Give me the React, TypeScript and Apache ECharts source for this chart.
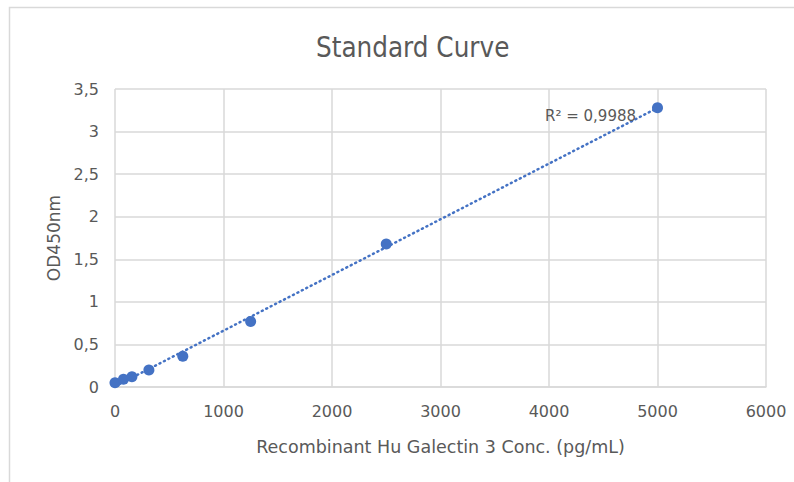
import React, { useEffect, useRef } from "react";
import * as echarts from "echarts";

const chartTitle = "Standard Curve";
const xAxisTitle = "Recombinant Hu Galectin 3 Conc. (pg/mL)";
const yAxisTitle = "OD450nm";
const rSquaredLabel = "R² = 0,9988";

const concentrations = [0, 78, 156, 312.5, 625, 1250, 2500, 5000];
const odValues = [0.05, 0.09, 0.12, 0.2, 0.36, 0.77, 1.68, 3.28];

const xMin = 0;
const xMax = 6000;
const xStep = 1000;
const yMin = 0;
const yMax = 3.5;
const yStep = 0.5;

const BLUE = "#4472C4";
const GRAY_TEXT = "#595959";
const GRID_GRAY = "#d9d9d9";
const LABEL_FONT = "'DejaVu Sans', 'Open Sans', sans-serif";

function linearFit(xs: number[], ys: number[]) {
  const n = xs.length;
  const mx = xs.reduce((a, b) => a + b, 0) / n;
  const my = ys.reduce((a, b) => a + b, 0) / n;
  let sxy = 0;
  let sxx = 0;
  for (let i = 0; i < n; i++) {
    sxy += (xs[i] - mx) * (ys[i] - my);
    sxx += (xs[i] - mx) * (xs[i] - mx);
  }
  const slope = sxy / sxx;
  return { slope, intercept: my - slope * mx };
}

const commaFmt = (v: number) => String(v).replace(".", ",");

export default function App() {
  const ref = useRef<HTMLDivElement>(null);

  useEffect(() => {
    if (!ref.current) return;
    const chart = echarts.init(ref.current, undefined, { renderer: "svg" });
    const fit = linearFit(concentrations, odValues);
    const x0 = Math.min(...concentrations);
    const x1 = Math.max(...concentrations);
    const trend = [
      [x0, fit.intercept + fit.slope * x0],
      [x1, fit.intercept + fit.slope * x1],
    ];
    const points = concentrations.map((c, i) => [c, odValues[i]]);

    chart.setOption({
      animation: false,
      backgroundColor: "#ffffff",
      title: {
        text: chartTitle,
        left: 311,
        top: 28,
        textStyle: {
          fontFamily: "'DejaVu Sans Condensed', 'DejaVu Sans', sans-serif",
          fontSize: 27.5,
          fontWeight: "normal",
          color: GRAY_TEXT,
        },
      },
      graphic: [
        {
          type: "polyline",
          shape: { points: [[9.5, 490], [9.5, 7.5], [800, 7.5]] },
          style: { stroke: GRID_GRAY, lineWidth: 1.5, fill: null },
          silent: true,
        },
        {
          type: "text",
          left: 545,
          top: 108,
          style: {
            text: rSquaredLabel,
            fontFamily: LABEL_FONT,
            fontSize: 15,
            fill: GRAY_TEXT,
          },
          z: 100,
        },
      ],
      grid: { left: 115, right: 28, top: 89, bottom: 95, containLabel: false },
      xAxis: {
        type: "value",
        min: xMin,
        max: xMax,
        interval: xStep,
        name: xAxisTitle,
        nameLocation: "middle",
        nameGap: 51,
        nameTextStyle: { fontFamily: LABEL_FONT, fontSize: 17.5, color: GRAY_TEXT },
        axisLine: { show: true, lineStyle: { color: GRID_GRAY, width: 1.5 } },
        axisTick: { show: false },
        axisLabel: {
          margin: 16,
          fontFamily: LABEL_FONT,
          fontSize: 16,
          color: GRAY_TEXT,
          formatter: (v: number) => commaFmt(v),
        },
        splitLine: { show: true, lineStyle: { color: GRID_GRAY, width: 1.5 } },
      },
      yAxis: {
        type: "value",
        min: yMin,
        max: yMax,
        interval: yStep,
        name: yAxisTitle,
        nameLocation: "middle",
        nameGap: 50,
        nameRotate: 90,
        nameTextStyle: { fontFamily: LABEL_FONT, fontSize: 17, color: GRAY_TEXT },
        axisLine: { show: false },
        axisTick: { show: false },
        axisLabel: {
          margin: 16,
          fontFamily: LABEL_FONT,
          fontSize: 16,
          color: GRAY_TEXT,
          formatter: (v: number) => commaFmt(v),
        },
        splitLine: { show: true, lineStyle: { color: GRID_GRAY, width: 1.5 } },
      },
      series: [
        {
          type: "line",
          data: trend,
          symbol: "none",
          lineStyle: { color: BLUE, width: 2.5, type: [1, 4], cap: "round" },
          z: 2,
          silent: true,
        },
        {
          type: "scatter",
          data: points,
          symbol: "circle",
          symbolSize: 11,
          itemStyle: { color: BLUE, opacity: 1 },
          z: 3,
        },
      ],
    });
    return () => chart.dispose();
  }, []);

  return (
    <div
      ref={ref}
      style={{ position: "fixed", left: 0, top: 0, width: 794, height: 482 }}
    />
  );
}
